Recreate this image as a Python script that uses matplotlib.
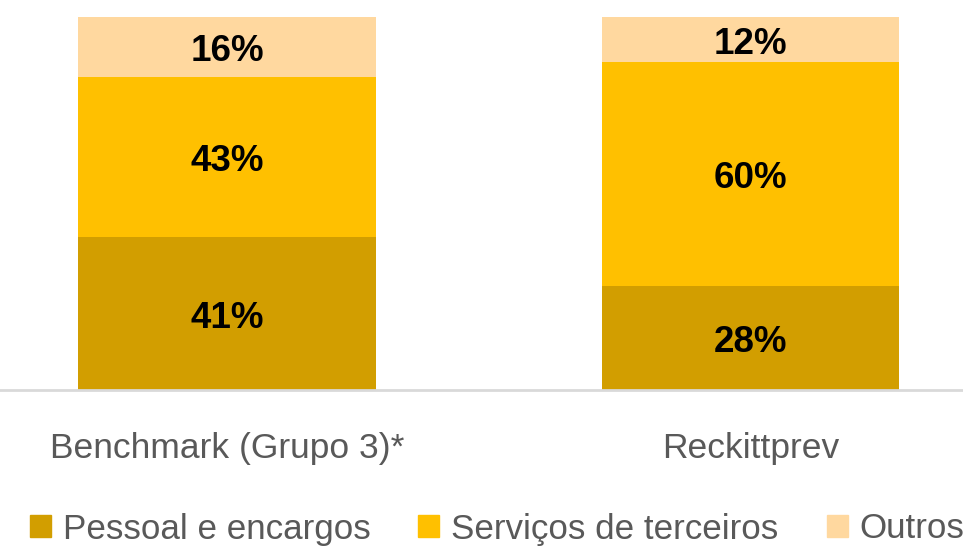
import matplotlib
matplotlib.use("Agg")
import matplotlib.pyplot as plt
from matplotlib.patches import Patch

categories = ['Benchmark (Grupo 3)*', 'Reckittprev']
series = ['Pessoal e encargos', 'Serviços de terceiros', 'Outros']
pessoal = [41, 28]
servicos = [43, 60]
outros = [16, 12]
colors = ['#D29E00', '#FFC000', '#FFD89F']

plt.rcParams['font.family'] = ['Liberation Sans Narrow', 'Liberation Sans', 'DejaVu Sans']

fig = plt.figure(figsize=(9.63, 5.55), dpi=100)
ax = fig.add_axes([0, 1 - 390 / 555, 1, (390 - 17) / 555])

x = [0, 1]
bottom = [0, 0]
for vals, col in zip([pessoal, servicos, outros], colors):
    ax.bar(x, vals, width=0.569, bottom=bottom, color=col)
    for xi, b, v in zip(x, bottom, vals):
        ax.text(xi, b + v / 2 - 1.3, f'{v}%', ha='center', va='center',
                fontsize=26.5, fontweight='bold', color='black')
    bottom = [b + v for b, v in zip(bottom, vals)]

ax.set_xlim(-0.4336, 1.406)
ax.set_ylim(0, 100)
ax.set_xticks(x)
ax.set_xticklabels(categories, fontsize=25.5, color='#595959')
ax.tick_params(axis='x', length=0, pad=30)
ax.set_yticks([])
for s in ['top', 'right', 'left']:
    ax.spines[s].set_visible(False)
ax.spines['bottom'].set_color('#D9D9D9')
ax.spines['bottom'].set_linewidth(2)

handles = [Patch(color=c) for c in colors]
fig.legend(handles, series, loc='center left', bbox_to_anchor=(0.031, 1 - 529 / 555),
           ncol=3, frameon=False, fontsize=25.2, labelcolor='#595959',
           handlelength=0.6, handleheight=0.6, handletextpad=0.34,
           columnspacing=1.37, borderpad=0, borderaxespad=0)

fig.savefig('out.png', dpi=100)
